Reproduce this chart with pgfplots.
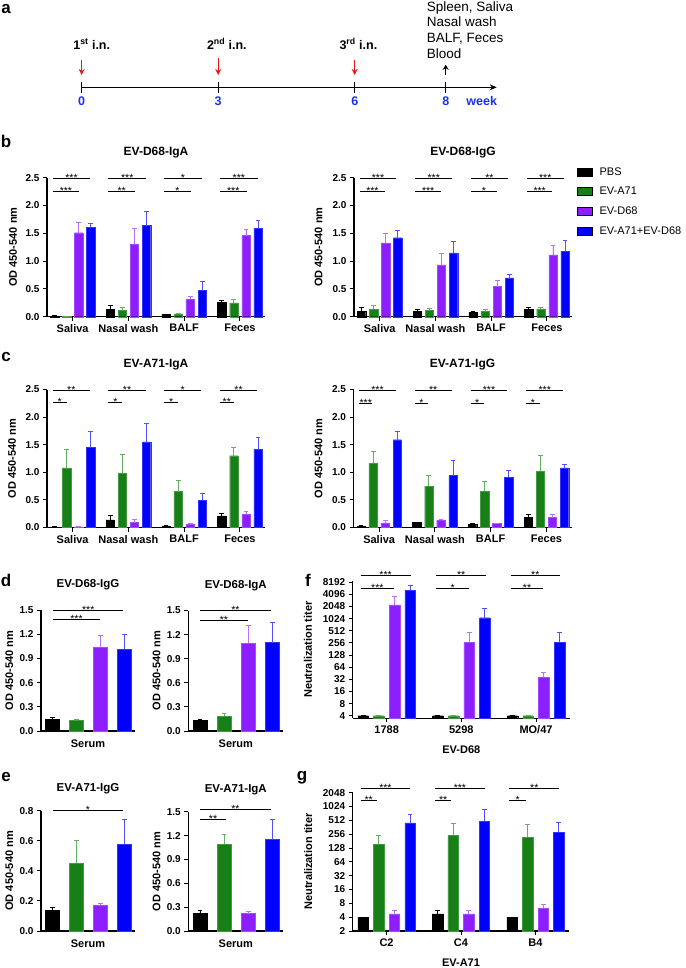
\documentclass[border=0pt]{standalone}
\usepackage{fontspec}
\setmainfont{Liberation Sans}
\usepackage{pgfplots}
\usepackage{pgfplotstable}
\pgfplotsset{compat=1.18}
\usetikzlibrary{arrows.meta}

\definecolor{cpbs}{RGB}{0,0,0}
\definecolor{ca71}{RGB}{22,128,22}
\definecolor{cd68}{RGB}{140,30,255}
\definecolor{cmix}{RGB}{0,0,255}
\definecolor{ea71}{RGB}{100,175,100}
\definecolor{ed68}{RGB}{180,115,255}
\definecolor{emix}{RGB}{80,80,255}
\definecolor{cweek}{RGB}{25,50,240}
\definecolor{carrow}{RGB}{235,20,20}

% data: value and upper error per group
\pgfplotstableread{
x pbs pbse a71 a71e d68 d68e mix mixe
0 0.01 0.01 0.003 0 1.51 0.19 1.61 0.06
1 0.13 0.07 0.11 0.06 1.30 0.28 1.64 0.26
2 0.04 0.01 0.05 0.01 0.31 0.06 0.48 0.16
3 0.26 0.04 0.25 0.06 1.46 0.11 1.59 0.15
}\bIgA
\pgfplotstableread{
x pbs pbse a71 a71e d68 d68e mix mixe
0 0.10 0.07 0.13 0.08 1.33 0.16 1.42 0.14
1 0.10 0.04 0.12 0.03 0.93 0.20 1.15 0.21
2 0.08 0.01 0.10 0.03 0.54 0.11 0.70 0.06
3 0.13 0.03 0.14 0.02 1.11 0.17 1.18 0.19
}\bIgG
\pgfplotstableread{
x pbs pbse a71 a71e d68 d68e mix mixe
0 0.01 0.005 1.08 0.33 0.01 0.005 1.45 0.29
1 0.14 0.08 0.98 0.34 0.09 0.05 1.55 0.33
2 0.03 0.01 0.65 0.21 0.06 0.01 0.49 0.12
3 0.21 0.04 1.30 0.16 0.24 0.06 1.42 0.21
}\cIgA
\pgfplotstableread{
x pbs pbse a71 a71e d68 d68e mix mixe
0 0.02 0.01 1.16 0.21 0.085 0.045 1.59 0.16
1 0.09 0.01 0.75 0.19 0.13 0.02 0.94 0.28
2 0.06 0.01 0.66 0.17 0.07 0.01 0.91 0.12
3 0.19 0.04 1.02 0.28 0.18 0.05 1.08 0.07
}\cIgG
\pgfplotstableread{
x pbs pbse a71 a71e d68 d68e mix mixe
0 0.15 0.02 0.13 0.01 1.04 0.14 1.02 0.18
}\dIgG
\pgfplotstableread{
x pbs pbse a71 a71e d68 d68e mix mixe
0 0.14 0.01 0.19 0.03 1.09 0.22 1.10 0.25
}\dIgA
\pgfplotstableread{
x pbs pbse a71 a71e d68 d68e mix mixe
0 0.14 0.02 0.45 0.15 0.17 0.015 0.58 0.165
}\eIgG
\pgfplotstableread{
x pbs pbse a71 a71e d68 d68e mix mixe
0 0.23 0.025 1.09 0.12 0.22 0.03 1.15 0.25
}\eIgA
\pgfplotstableread{
x pbs pbse a71 a71e d68 d68e mix mixe
0 4 0 4 0 2240 1500 5260 1730
1 4 0 4 0 265 203 1082 763
2 4 0 4 0 36.5 11.3 265 193
}\fNeut
\pgfplotstableread{
x pbs pbse a71 a71e d68 d68e mix mixe
0 4 0 154 88 4.7 0.9 449 231
1 4.7 0.9 242 201 4.7 0.9 495 395
2 4 0 220 193 6.2 1.3 282 189
}\gNeut

\pgfplotsset{
  eb/.style={error bars/error bar style={draw=#1, line width=0.8pt},
    error bars/error mark options={draw=#1, line width=0.8pt, mark size=2.4pt, rotate=90}},
  bpbs/.style={fill=cpbs, draw=cpbs, eb=black},
  ba71/.style={fill=ca71, draw=ca71!80!white, eb=ea71},
  bd68/.style={fill=cd68, draw=cd68!80!white, eb=ed68},
  bmix/.style={fill=cmix, draw=cmix!80!white, eb=emix},
  od/.style={
    scale only axis, anchor=south west, clip=false,
    axis x line*=bottom, axis y line*=left,
    axis line style={line width=1.2pt, -},
    tick style={line width=1pt, black},
    major tick length=4pt, tick align=outside,
    /pgf/number format/assume math mode=true,
    y tick label style={font=\fontsize{10}{12}\selectfont\bfseries,
      /pgf/number format/fixed, /pgf/number format/fixed zerofill,
      /pgf/number format/precision=1},
    x tick label style={font=\fontsize{11}{13}\selectfont\bfseries},
    label style={font=\fontsize{11}{13}\selectfont\bfseries},
    every axis title/.style={at={(axis description cs:0.5,1)}, anchor=center,
      yshift=25pt, font=\fontsize{12}{14}\selectfont\bfseries},
    ymin=0, ybar, bar width=0.15,
    error bars/y dir=plus, error bars/y explicit,
  },
}

\newcommand{\fourbars}[5]{%
  \addplot[bpbs, bar shift=#2] table[x=x, y=pbs, y error plus=pbse]{#1};
  \addplot[ba71, bar shift=#3] table[x=x, y=a71, y error plus=a71e]{#1};
  \addplot[bd68, bar shift=#4] table[x=x, y=d68, y error plus=d68e]{#1};
  \addplot[bmix, bar shift=#5] table[x=x, y=mix, y error plus=mixe]{#1};
}
\newcommand{\sig}[4]{%
  \draw[line width=0.9pt] (axis cs:#1,#3) -- (axis cs:#2,#3)
    node[midway, anchor=base, yshift=-3pt, inner sep=0pt, font=\fontsize{10.5}{10}\selectfont] {#4};
}

\begin{document}
\begin{tikzpicture}
\useasboundingbox (0,0) rectangle (685pt,-968pt);

\begin{scope}[every node/.style={font=\fontsize{17}{17}\selectfont\bfseries}]
\node at (6pt,-9pt) {a};
\node at (6pt,-141pt) {b};
\node at (6pt,-357pt) {c};
\node at (6pt,-580pt) {d};
\node at (6pt,-777pt) {e};
\node at (308pt,-580pt) {f};
\node at (302pt,-778pt) {g};
\end{scope}

% ---- a: timeline
\begin{axis}[at={(81.7pt,-87.3pt)}, anchor=south west, scale only axis,
  width=415pt, height=50pt, xmin=0, xmax=9.12, ymin=0, ymax=50, clip=false,
  axis y line=none, axis x line=bottom,
  x axis line style={line width=1.3pt, -{Stealth[length=7pt, width=6pt]}},
  xtick={0,3,6,8}, tick align=center, major tick length=11pt,
  tick style={line width=1.3pt, black},
  x tick label style={font=\fontsize{12.5}{14}\selectfont\bfseries, text=cweek},
  /pgf/number format/assume math mode=true]
\addplot[draw=none] coordinates {(0,0) (8,0)};
\draw[carrow, line width=1.4pt, -{Stealth[length=6pt, width=6pt]}] (axis cs:0,27.3) -- (axis cs:0,12.3);
\draw[carrow, line width=1.4pt, -{Stealth[length=6pt, width=6pt]}] (axis cs:3,29) -- (axis cs:3,12.3);
\draw[carrow, line width=1.4pt, -{Stealth[length=6pt, width=6pt]}] (axis cs:6,27.3) -- (axis cs:6,12.3);
\draw[black, line width=1.3pt, -{Stealth[length=5pt, width=6pt]}] (axis cs:8,12.3) -- (axis cs:8,22.5);
\begin{scope}[every node/.style={font=\fontsize{12.5}{14}\selectfont\bfseries, anchor=base}]
\node at (axis cs:0.22,38) {1\textsuperscript{st} i.n.};
\node at (axis cs:3.19,38) {2\textsuperscript{nd} i.n.};
\node at (axis cs:6.08,38) {3\textsuperscript{rd} i.n.};
\node[text=cweek] at (axis cs:8.79,-18.7) {week};
\end{scope}
\begin{scope}[every node/.style={font=\fontsize{13.5}{15}\selectfont, anchor=base west, inner sep=0pt}]
\node at (axis cs:7.58,75.9) {Spleen, Saliva};
\node at (axis cs:7.58,61) {Nasal wash};
\node at (axis cs:7.58,44.3) {BALF, Feces};
\node at (axis cs:7.58,28.7) {Blood};
\end{scope}
\end{axis}

% ---- b left
\begin{axis}[od, at={(47pt,-316.7pt)}, width=218pt, height=139pt,
  xmin=-0.46, xmax=3.45, ymax=2.5, ytick={0,0.5,1,1.5,2,2.5},
  xtick={0,1,2,3}, xticklabels={Saliva,Nasal wash,BALF,Feces},
  title={EV-D68-IgA}, ylabel={OD 450-540 nm},
  ylabel style={at={(axis description cs:-0.155,0.5)}, anchor=center}]
\fourbars{\bIgA}{-0.325}{-0.108}{0.108}{0.325}
\sig{-0.36}{0.32}{2.49}{***} \sig{-0.36}{0.12}{2.25}{***}
\sig{0.64}{1.32}{2.49}{***} \sig{0.64}{1.12}{2.25}{**}
\sig{1.64}{2.32}{2.49}{*} \sig{1.64}{2.12}{2.25}{*}
\sig{2.64}{3.32}{2.49}{***} \sig{2.64}{3.12}{2.25}{***}
\end{axis}

% ---- b right
\begin{axis}[od, at={(354pt,-316.7pt)}, width=218pt, height=139pt,
  xmin=-0.46, xmax=3.45, ymax=2.5, ytick={0,0.5,1,1.5,2,2.5},
  xtick={0,1,2,3}, xticklabels={Saliva,Nasal wash,BALF,Feces},
  title={EV-D68-IgG}, ylabel={OD 450-540 nm},
  ylabel style={at={(axis description cs:-0.162,0.5)}, anchor=center},
  legend image code/.code={\fill[#1] (0pt,-4pt) rectangle (15pt,4pt);},
  legend cell align=left,
  legend style={at={(axis description cs:1,1)}, anchor=north west,
    xshift=5pt, yshift=12.5pt, draw=none, fill=none, inner sep=0pt,
    row sep=6.5pt, column sep=5pt,
    font=\fontsize{11}{13}\selectfont}]
\addlegendimage{fill=cpbs}\addlegendentry{PBS}
\addlegendimage{fill=ca71}\addlegendentry{EV-A71}
\addlegendimage{fill=cd68}\addlegendentry{EV-D68}
\addlegendimage{fill=cmix}\addlegendentry{EV-A71+EV-D68}
\fourbars{\bIgG}{-0.325}{-0.108}{0.108}{0.325}
\sig{-0.36}{0.30}{2.48}{***} \sig{-0.36}{0.10}{2.26}{***}
\sig{0.64}{1.30}{2.48}{***} \sig{0.64}{1.10}{2.26}{***}
\sig{1.64}{2.30}{2.48}{**} \sig{1.64}{2.10}{2.26}{*}
\sig{2.64}{3.30}{2.48}{***} \sig{2.64}{3.10}{2.26}{***}
\end{axis}

% ---- c left
\begin{axis}[od, at={(47pt,-527.5pt)}, width=218pt, height=138pt,
  xmin=-0.46, xmax=3.45, ymax=2.5, ytick={0,0.5,1,1.5,2,2.5},
  xtick={0,1,2,3}, xticklabels={Saliva,Nasal wash,BALF,Feces},
  title={EV-A71-IgA}, ylabel={OD 450-540 nm},
  ylabel style={at={(axis description cs:-0.16,0.5)}, anchor=center}]
\fourbars{\cIgA}{-0.325}{-0.108}{0.108}{0.325}
\sig{-0.36}{0.31}{2.49}{**} \sig{-0.36}{-0.11}{2.26}{*}
\sig{0.64}{1.31}{2.49}{**} \sig{0.64}{0.89}{2.26}{*}
\sig{1.64}{2.31}{2.49}{*} \sig{1.64}{1.89}{2.26}{*}
\sig{2.64}{3.31}{2.49}{**} \sig{2.64}{2.89}{2.26}{**}
\end{axis}

% ---- c right
\begin{axis}[od, at={(353.5pt,-527.5pt)}, width=218pt, height=138pt,
  xmin=-0.46, xmax=3.45, ymax=2.5, ytick={0,0.5,1,1.5,2,2.5},
  xtick={0,1,2,3}, xticklabels={Saliva,Nasal wash,BALF,Feces},
  title={EV-A71-IgG}, ylabel={OD 450-540 nm},
  ylabel style={at={(axis description cs:-0.16,0.5)}, anchor=center}]
\fourbars{\cIgG}{-0.325}{-0.108}{0.108}{0.325}
\sig{-0.36}{0.30}{2.48}{***} \sig{-0.36}{-0.12}{2.25}{***}
\sig{0.64}{1.30}{2.48}{**} \sig{0.64}{0.88}{2.25}{*}
\sig{1.64}{2.30}{2.48}{***} \sig{1.64}{1.88}{2.25}{*}
\sig{2.64}{3.30}{2.48}{***} \sig{2.64}{2.88}{2.25}{*}
\end{axis}

% ---- d left
\begin{axis}[od, at={(41pt,-731pt)}, width=94pt, height=121pt,
  xmin=-1.98, xmax=1.95, bar width=0.585, ymax=1.5,
  ytick={0,0.3,0.6,0.9,1.2,1.5}, xtick=\empty,
  title={EV-D68-IgG}, title style={font=\fontsize{11.5}{13}\selectfont\bfseries},
  xlabel={Serum}, xlabel style={at={(axis description cs:0.5,0)}, anchor=center, yshift=-12.5pt},
  ylabel={OD 450-540 nm},
  ylabel style={at={(axis description cs:-0.337,0.5)}, anchor=center}]
\fourbars{\dIgG}{-1.5}{-0.5}{0.5}{1.5}
\sig{-1.47}{1.46}{1.5}{***} \sig{-1.47}{0.48}{1.377}{***}
\end{axis}

% ---- d right
\begin{axis}[od, at={(188.3pt,-731pt)}, width=95pt, height=120.5pt,
  xmin=-1.98, xmax=1.95, bar width=0.585, ymax=1.5,
  ytick={0,0.3,0.6,0.9,1.2,1.5}, xtick=\empty,
  title={EV-D68-IgA}, title style={font=\fontsize{11.5}{13}\selectfont\bfseries},
  xlabel={Serum}, xlabel style={at={(axis description cs:0.5,0)}, anchor=center, yshift=-12.5pt},
  ylabel={OD 450-540 nm},
  ylabel style={at={(axis description cs:-0.333,0.5)}, anchor=center}]
\fourbars{\dIgA}{-1.5}{-0.5}{0.5}{1.5}
\sig{-1.49}{1.43}{1.5}{**} \sig{-1.49}{0.47}{1.38}{**}
\end{axis}

% ---- e left
\begin{axis}[od, at={(41pt,-931pt)}, width=94pt, height=120.3pt,
  xmin=-1.98, xmax=1.95, bar width=0.585, ymax=0.8,
  ytick={0,0.2,0.4,0.6,0.8}, xtick=\empty,
  title={EV-A71-IgG}, title style={font=\fontsize{11.5}{13}\selectfont\bfseries, yshift=-3pt},
  xlabel={Serum}, xlabel style={at={(axis description cs:0.5,0)}, anchor=center, yshift=-13pt},
  ylabel={OD 450-540 nm},
  ylabel style={at={(axis description cs:-0.337,0.5)}, anchor=center}]
\fourbars{\eIgG}{-1.5}{-0.5}{0.5}{1.5}
\sig{-1.47}{1.44}{0.8}{*}
\end{axis}

% ---- e right
\begin{axis}[od, at={(188.3pt,-931pt)}, width=95pt, height=119.3pt,
  xmin=-1.98, xmax=1.95, bar width=0.585, ymax=1.5,
  ytick={0,0.3,0.6,0.9,1.2,1.5}, xtick=\empty,
  title={EV-A71-IgA}, title style={font=\fontsize{11.5}{13}\selectfont\bfseries, yshift=-3pt},
  xlabel={Serum}, xlabel style={at={(axis description cs:0.5,0)}, anchor=center, yshift=-13pt},
  ylabel={OD 450-540 nm},
  ylabel style={at={(axis description cs:-0.333,0.5)}, anchor=center}]
\fourbars{\eIgA}{-1.5}{-0.5}{0.5}{1.5}
\sig{-1.49}{1.43}{1.53}{**} \sig{-1.49}{-0.42}{1.40}{**}
\end{axis}

% ---- f
\begin{axis}[od, at={(352.7pt,-718.3pt)}, width=217.3pt, height=137.6pt,
  ymode=log, log basis y=2, log origin y=infty, ymin=3.45, ymax=8960,
  xmin=-0.455, xmax=2.455, bar width=0.14,
  ytick={4,8,16,32,64,128,256,512,1024,2048,4096,8192},
  yticklabels={4,8,16,32,64,128,256,512,1024,2048,4096,8192},
  xtick={0,1,2}, xticklabels={1788,5298,MO/47},
  xlabel={EV-D68}, xlabel style={at={(axis description cs:0.5,0)}, anchor=center, yshift=-31.7pt},
  ylabel={Neutralization titer},
  ylabel style={at={(axis description cs:-0.206,0.5)}, anchor=center}]
\fourbars{\fNeut}{-0.315}{-0.105}{0.105}{0.315}
\sig{-0.35}{0.32}{11900}{***} \sig{-0.35}{0.10}{5800}{***}
\sig{0.665}{1.33}{11900}{**} \sig{0.665}{1.10}{5800}{*}
\sig{1.66}{2.32}{11900}{**} \sig{1.66}{2.10}{5800}{**}
\end{axis}

% ---- g
\begin{axis}[od, at={(352.7pt,-931pt)}, width=216.6pt, height=139.3pt,
  ymode=log, log basis y=2, log origin y=infty, ymin=2, ymax=2150,
  xmin=-0.455, xmax=2.455, bar width=0.14,
  ytick={2,4,8,16,32,64,128,256,512,1024,2048},
  yticklabels={2,4,8,16,32,64,128,256,512,1024,2048},
  xtick={0,1,2}, xticklabels={C2,C4,B4},
  xlabel={EV-A71}, xlabel style={at={(axis description cs:0.5,0)}, anchor=center, yshift=-31.7pt},
  ylabel={Neutralization titer},
  ylabel style={at={(axis description cs:-0.206,0.5)}, anchor=center}]
\fourbars{\gNeut}{-0.315}{-0.105}{0.105}{0.315}
\sig{-0.35}{0.32}{2556}{***} \sig{-0.35}{-0.13}{1370}{**}
\sig{0.65}{1.32}{2556}{***} \sig{0.65}{0.87}{1370}{**}
\sig{1.65}{2.32}{2556}{**} \sig{1.65}{1.87}{1370}{*}
\end{axis}

\end{tikzpicture}
\end{document}
